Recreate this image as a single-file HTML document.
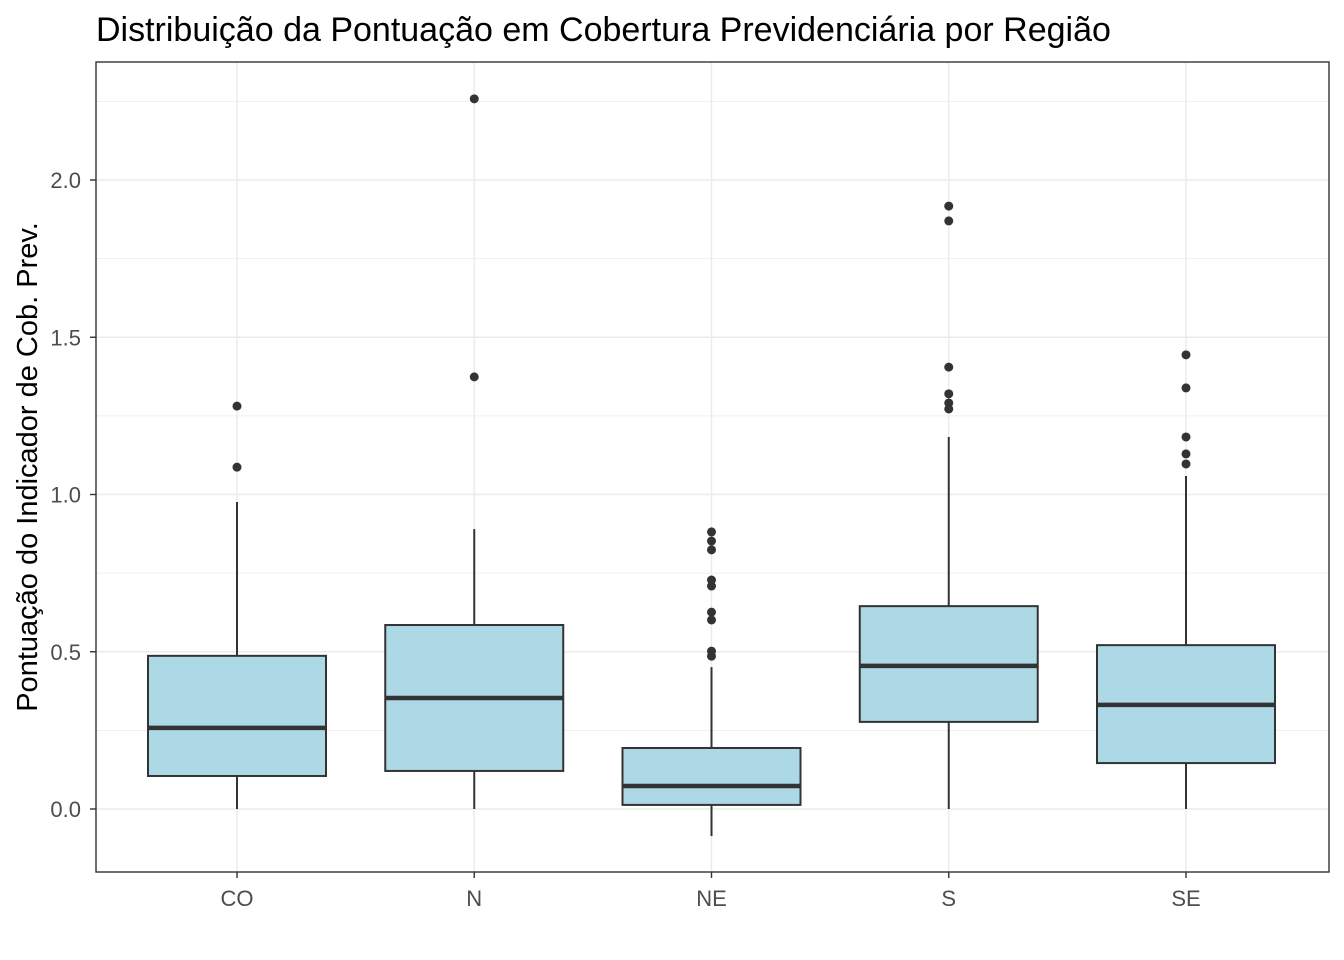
<!DOCTYPE html>
<html><head><meta charset="utf-8"><style>
body{margin:0;background:#fff;}
svg{display:block;font-family:"Liberation Sans",Arial,sans-serif;}
</style></head><body>
<svg id="chart" width="1344" height="960">
<text x="96" y="41" font-size="34" fill="#000">Distribuição da Pontuação em Cobertura Previdenciária por Região</text>
<text transform="translate(37,467) rotate(-90)" text-anchor="middle" font-size="29" fill="#000">Pontuação do Indicador de Cob. Prev.</text>
<g id="grid"></g><g id="marks"></g><g id="axes"></g>
<rect x="96" y="62" width="1233" height="810" fill="none" stroke="#333" stroke-width="1.4"/>
</svg>
<script>
const categories=["CO","N","NE","S","SE"];
const lowW=[0,0,-0.086,0,0];
const q1=[0.105,0.121,0.013,0.277,0.146];
const med=[0.258,0.353,0.073,0.455,0.331];
const q3=[0.487,0.585,0.194,0.645,0.521];
const highW=[0.976,0.890,0.451,1.183,1.059];
const outliers=[[1.087,1.281],[1.374,2.258],[0.881,0.852,0.824,0.728,0.709,0.626,0.601,0.502,0.486],[1.917,1.870,1.405,1.320,1.291,1.272],[1.444,1.339,1.183,1.129,1.097]];
const yTicks=[0,0.5,1.0,1.5,2.0];
const yTickLabels=["0.0","0.5","1.0","1.5","2.0"];
const NS="http://www.w3.org/2000/svg";
const y=v=>809-v*314.5;
const x=i=>237+i*237.25;
const bw=178;
function mk(tag,attrs,parent){const e=document.createElementNS(NS,tag);for(const k in attrs)e.setAttribute(k,attrs[k]);parent.appendChild(e);return e;}
const grid=document.getElementById('grid'),marks=document.getElementById('marks'),axes=document.getElementById('axes');
for(let v=0;v<=2.3;v+=0.25){const l=mk('line',{x1:96,x2:1329,y1:y(v),y2:y(v),stroke:'#ebebeb','stroke-width':Math.abs(v*2-Math.round(v*2))<0.01?1.4:0.7},grid);
}
categories.forEach((c,i)=>{const l=mk('line',{x1:x(i),x2:x(i),y1:62,y2:872,stroke:'#ebebeb','stroke-width':1.4},grid);
});
yTicks.forEach((v,k)=>{const t=mk('line',{x1:90,x2:96,y1:y(v),y2:y(v),stroke:'#333','stroke-width':1.4},axes);

const tx=mk('text',{x:81,y:y(v)+8,'text-anchor':'end','font-size':22,fill:'#4d4d4d'},axes);tx.textContent=yTickLabels[k];
});
categories.forEach((c,i)=>{const t=mk('line',{x1:x(i),x2:x(i),y1:872,y2:878,stroke:'#333','stroke-width':1.4},axes);

const tx=mk('text',{x:x(i),y:906,'text-anchor':'middle','font-size':22,fill:'#4d4d4d'},axes);tx.textContent=c;

const g=mk('g',{},marks);
const w1=mk('line',{x1:x(i),x2:x(i),y1:y(lowW[i]),y2:y(q1[i]),stroke:'#333','stroke-width':2},g);

const w2=mk('line',{x1:x(i),x2:x(i),y1:y(q3[i]),y2:y(highW[i]),stroke:'#333','stroke-width':2},g);

const r=mk('rect',{x:x(i)-bw/2,y:y(q3[i]),width:bw,height:y(q1[i])-y(q3[i]),fill:'#add8e6',stroke:'#333','stroke-width':2},g);

const m=mk('line',{x1:x(i)-bw/2,x2:x(i)+bw/2,y1:y(med[i]),y2:y(med[i]),stroke:'#333','stroke-width':4.5},g);

outliers[i].forEach(v=>{const p=mk('circle',{cx:x(i),cy:y(v),r:4.5,fill:'#333'},g);
});
});
</script>
</body></html>
